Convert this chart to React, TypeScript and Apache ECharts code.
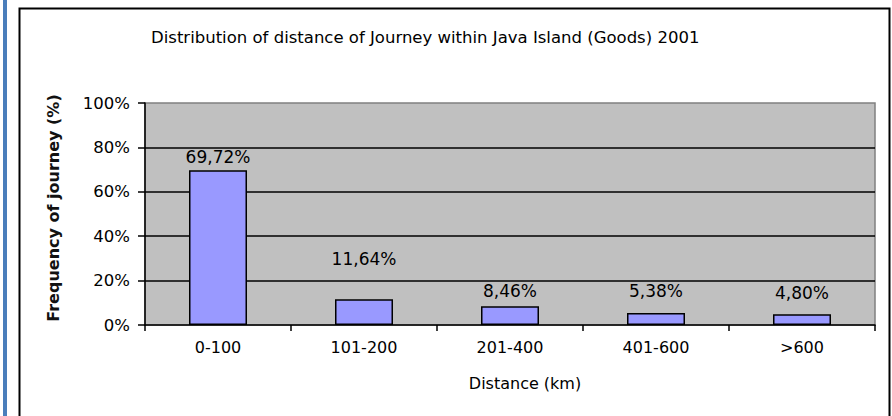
import React, { useEffect, useRef } from "react";
import * as echarts from "echarts";

const categories = ["0-100", "101-200", "201-400", "401-600", ">600"];
const values = [69.72, 11.64, 8.46, 5.38, 4.8];
const valueLabels = ["69,72%", "11,64%", "8,46%", "5,38%", "4,80%"];
const labelOffsets = [0, -27, -2, -9, -8];
const yTicks = [0, 20, 40, 60, 80, 100];

const FONT = "DejaVu Sans";

export default function App() {
  const ref = useRef<HTMLDivElement>(null);
  useEffect(() => {
    document.body.style.margin = "0";
    const chart = echarts.init(ref.current!, null, { renderer: "svg" });
    chart.setOption({
      animation: false,
      backgroundColor: "#ffffff",
      textStyle: { fontFamily: FONT },
      title: {
        text: "Distribution of distance of Journey within Java Island (Goods) 2001",
        left: 146,
        top: 24,
        textStyle: { fontFamily: FONT, fontSize: 16.5, fontWeight: "normal", color: "#000" },
      },
      graphic: [
        { type: "rect", shape: { x: 3, y: 0, width: 4, height: 416 }, style: { fill: "#4a7ebb" } },
        {
          type: "rect",
          shape: { x: 19.5, y: 8.5, width: 870, height: 420 },
          style: { fill: "none", stroke: "#000", lineWidth: 2 },
        },
      ],
      grid: {
        left: 145,
        right: 17,
        top: 103,
        bottom: 91,
        show: true,
        backgroundColor: "#C0C0C0",
        borderColor: "#808080",
        borderWidth: 1.5,
      },
      xAxis: {
        type: "category",
        data: categories,
        name: "Distance (km)",
        nameLocation: "middle",
        nameGap: 50,
        nameTextStyle: { fontFamily: FONT, fontSize: 16, color: "#000", padding: [0, 0, 0, 30] },
        axisLine: { show: true, lineStyle: { color: "#000", width: 1.5 } },
        axisTick: { show: true, length: 6, lineStyle: { color: "#000", width: 1.5 } },
        axisLabel: { margin: 14, fontFamily: FONT, fontSize: 16, color: "#000" },
      },
      yAxis: {
        type: "value",
        min: yTicks[0],
        max: yTicks[yTicks.length - 1],
        interval: 20,
        name: "Frequency of journey (%)",
        nameLocation: "middle",
        nameGap: 84,
        nameTextStyle: { fontFamily: FONT, fontSize: 16, fontWeight: "bold", color: "#111", padding: [0, 0, 0, 12] },
        axisLine: { show: true, lineStyle: { color: "#000", width: 1.5 } },
        axisTick: { show: true, length: 7, lineStyle: { color: "#000", width: 1.5 } },
        axisLabel: { margin: 15, fontFamily: FONT, fontSize: 16.5, color: "#000", formatter: "{value}%" },
        splitLine: {
          show: true,
          showMinLine: false,
          showMaxLine: false,
          lineStyle: { color: "#000", width: 1.5 },
        },
      },
      series: [
        {
          type: "bar",
          barWidth: 58,
          data: values.map((v, i) => ({
            value: v,
            label: { offset: [0, labelOffsets[i]] },
          })),
          itemStyle: { color: "#9999FF", borderColor: "#000", borderWidth: 1.5 },
          label: {
            show: true,
            position: "top",
            fontFamily: FONT,
            fontSize: 17,
            color: "#000",
            formatter: (p: any) => valueLabels[p.dataIndex],
          },
        },
      ],
    });
    return () => chart.dispose();
  }, []);
  return <div ref={ref} style={{ width: 892, height: 416 }} />;
}
